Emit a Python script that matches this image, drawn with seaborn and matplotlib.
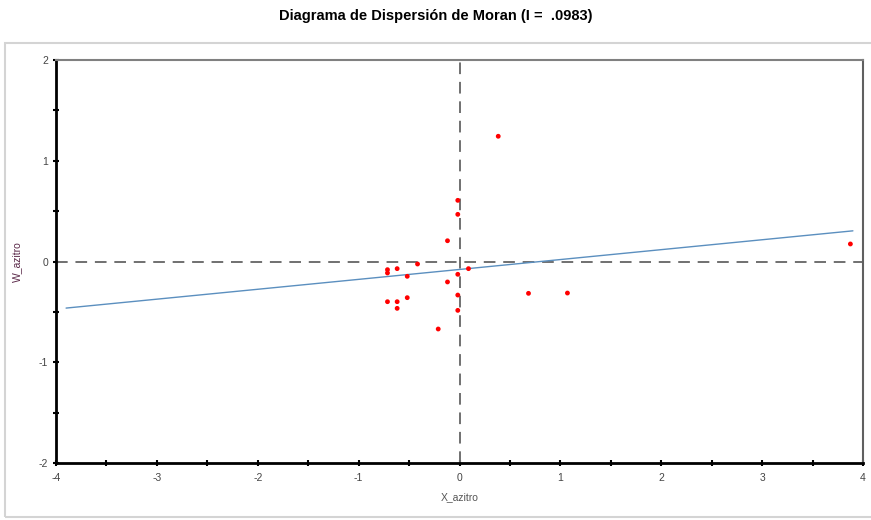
import numpy as np
import pandas as pd
import matplotlib
matplotlib.use("Agg")
import matplotlib.pyplot as plt
from matplotlib.patches import Rectangle
from matplotlib.ticker import MultipleLocator
import seaborn as sns

# Standardised variable and its spatial lag
x_azitro = [0.384, -0.017, -0.017, -0.119, -0.416, -0.618, -0.714, -0.714, -0.518,
            0.089, -0.017, -0.119, -0.017, 0.684, -0.714, -0.618, -0.518, -0.618,
            -0.017, -0.211, 1.070, 3.875]
w_azitro = [1.243, 0.607, 0.468, 0.206, -0.025, -0.071, -0.081, -0.114, -0.147,
            -0.071, -0.127, -0.203, -0.333, -0.316, -0.399, -0.399, -0.359, -0.465,
            -0.485, -0.670, -0.313, 0.174]

moran_i = 0.0983
intercept = -0.079
fit_x = [-3.9, 3.9]

x_ticks = [-4, -3, -2, -1, 0, 1, 2, 3, 4]
y_ticks = [-2, -1, 0, 1, 2]

df = pd.DataFrame({"X_azitro": x_azitro, "W_azitro": w_azitro})
fit = pd.DataFrame({"x": fit_x, "y": [intercept + moran_i * v for v in fit_x]})

sns.set_theme(style="white")
plt.rcParams["font.family"] = ["Liberation Sans", "DejaVu Sans"]

fig = plt.figure(figsize=(8.71, 5.20), dpi=100)
fig.patch.set_facecolor("white")

# light frame around the plotting panel
fig.add_artist(Rectangle((5 / 871, 3 / 520), 880 / 871, 474 / 520,
                         transform=fig.transFigure, fill=False,
                         edgecolor="#d4d4d4", linewidth=1.5, zorder=0))

ax = fig.add_axes([56 / 871, 57 / 520, 807 / 871, 403 / 520])

ax.axhline(0, color="#707070", linestyle=(0, (6, 4)), linewidth=1.4, zorder=1)
ax.axvline(0, color="#707070", linestyle=(0, (6, 4)), linewidth=1.4, zorder=1)

sns.lineplot(data=fit, x="x", y="y", ax=ax, color="#5b8fbf", linewidth=1.0, zorder=2)
sns.scatterplot(data=df, x="X_azitro", y="W_azitro", ax=ax, color="#ff0000",
                s=12, edgecolor="none", zorder=3)

ax.set_xlim(-4, 4)
ax.set_ylim(-2, 2)
ax.set_xticks(x_ticks)
ax.set_yticks(y_ticks)
ax.set_xticklabels([str(t) for t in x_ticks])
ax.set_yticklabels([str(t) for t in y_ticks])
ax.xaxis.set_minor_locator(MultipleLocator(0.5))
ax.yaxis.set_minor_locator(MultipleLocator(0.5))
ax.tick_params(axis="both", which="both", direction="inout", length=5, width=1.5,
               color="black", labelsize=7.5, labelcolor="#444444", pad=3,
               bottom=True, left=True)
ax.tick_params(axis="x", which="major", pad=5)

for side in ("left", "bottom"):
    ax.spines[side].set_color("black")
    ax.spines[side].set_linewidth(2.0)
ax.spines["top"].set_color("#808080")
ax.spines["top"].set_linewidth(1.5)
ax.spines["right"].set_color("#606060")
ax.spines["right"].set_linewidth(1.5)

ax.set_xlabel("X_azitro", fontsize=7.5, color="#555555", labelpad=6)
ax.set_ylabel("W_azitro", fontsize=7.5, color="#5a2848", labelpad=12)

fig.text(0.5, 1 - 16 / 520, "Diagrama de Dispersión de Moran (I =  .0983)",
         ha="center", va="center", fontsize=10.5, fontweight="bold", color="black")

fig.savefig("out.png", dpi=100, facecolor="white")
